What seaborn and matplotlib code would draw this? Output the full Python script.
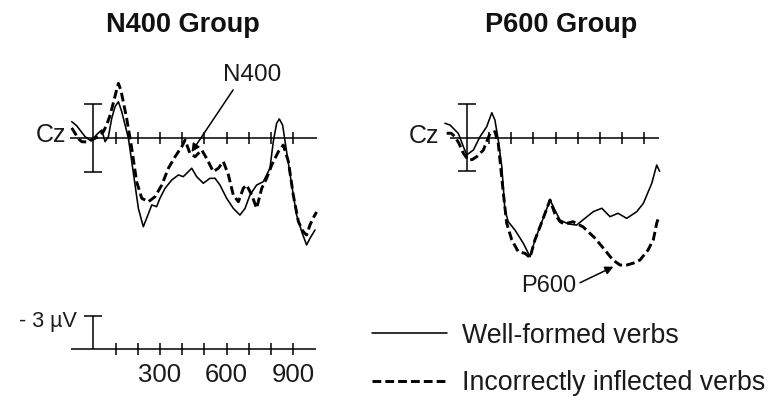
import numpy as np
import pandas as pd
import matplotlib
matplotlib.use("Agg")
import matplotlib.pyplot as plt
from matplotlib.lines import Line2D
import seaborn as sns

# ---------------- data (time in ms, amplitude in µV; negative plotted up) ----------------
n400_well_t = [-97, -75, -60, -37, -15, 0, 20, 38, 53, 68, 83, 98, 113, 128, 143, 158, 173, 188, 203,
               225, 240, 263, 285, 300, 323, 353, 383, 405, 428, 443, 465, 495, 525, 548, 570, 600,
               630, 660, 683, 705, 735, 765, 795, 810, 825, 837, 852, 870, 893, 915, 938, 960, 975, 998]
n400_well_v = [-1.46, -1.1, -0.71, -0.12, 0.2, 0.03, -0.4, -0.71, 0.33, -0.12, -1.76, -2.8, -3.24,
               -2.35, -1.16, 0.03, 2.1, 4.2, 6.3, 7.92, 7.17, 5.98, 6.13, 5.38, 4.49, 3.75, 3.3, 3.45,
               3.0, 2.7, 3.45, 4.04, 3.6, 3.6, 4.2, 5.38, 6.28, 6.88, 6.28, 5.09, 4.2, 3.9, 2.7, 0.33,
               -1.31, -1.7, -1.16, 1.22, 4.2, 6.88, 8.37, 9.55, 8.96, 8.21]

n400_incor_t = [-97, -82, -65, -52, -30, -7, 22, 45, 60, 75, 90, 105, 113, 125, 150, 173, 195, 218,
                248, 278, 308, 338, 368, 398, 413, 435, 458, 488, 510, 540, 563, 585, 608, 630, 653,
                675, 690, 713, 735, 758, 780, 803, 833, 855, 878, 900, 923, 945, 960, 975, 993, 1005]
n400_incor_v = [-0.9, -0.42, 0.1, 0.33, 0.35, 0.18, -0.12, -0.56, -1.16, -2.0, -3.125, -4.3, -4.88,
                -4.2, -1.76, 0.92, 3.9, 5.38, 5.69, 5.24, 4.2, 2.7, 1.67, 0.78, 0.18, 1.37, 1.67, 1.07,
                1.82, 3.0, 2.7, 2.1, 3.3, 5.09, 5.69, 4.49, 4.2, 5.09, 6.28, 4.49, 3.6, 2.41, 1.22,
                0.63, 2.1, 5.09, 7.47, 8.37, 8.66, 7.77, 7.03, 6.6]

p600_well_t = [-98, -75, -38, -15, 0, 30, 60, 90, 113, 127, 142, 158, 172, 187, 217, 255, 285, 307,
               330, 375, 397, 420, 457, 495, 532, 570, 608, 645, 681, 720, 765, 795, 833, 855, 868]
p600_well_v = [-1.29, -1.13, -0.39, 0.8, 1.54, 1.10, -0.09, -0.98, -2.23, -1.58, 0.21, 2.59, 6.46,
               7.5, 8.24, 9.43, 10.63, 9.13, 7.95, 5.56, 6.46, 7.35, 7.7, 7.8, 7.2, 6.6, 6.3, 7.05,
               6.75, 7.2, 6.61, 5.86, 4.07, 2.44, 3.0]

p600_incor_t = [-90, -70, -53, -35, -15, 7, 25, 45, 75, 105, 127, 142, 165, 180, 203, 232, 262, 285,
                307, 330, 375, 397, 420, 440, 478, 523, 577, 622, 658, 690, 720, 750, 780, 816, 840,
                855, 863]
p600_incor_v = [-0.39, -0.4, -0.09, 0.5, 1.39, 1.99, 1.95, 1.70, 1.10, -0.39, -0.54, 0.50, 4.96, 7.64,
                9.13, 10.18, 10.32, 10.7, 9.13, 7.95, 5.56, 6.8, 7.5, 7.7, 7.5, 7.95, 8.96, 10.03,
                10.92, 11.37, 11.37, 11.2, 10.92, 10.03, 9.1, 7.64, 7.17]

panel_titles = ["N400 Group", "P600 Group"]
legend_labels = ["Well-formed verbs", "Incorrectly inflected verbs"]
n400_ticks = [100, 200, 300, 400, 500, 600, 700, 800, 900]
p600_ticks = [100, 200, 300, 400, 500, 600, 700, 800]
scale_ticks = [100, 200, 300, 400, 500, 600, 700, 800, 900]
scale_labels = ["300", "600", "900"]
scale_label_pos = [300, 600, 900]
cal_uv = 3

# ---------------- style ----------------
sns.set_style("white")
plt.rcParams["font.family"] = ["Liberation Sans", "DejaVu Sans"]
TXT = "#1a1a1a"

W, H = 776, 400
PX_MS, PX_UV = 0.2222, 11.2
fig = plt.figure(figsize=(W / 100, H / 100), dpi=100)

def make_axes(left_px, right_px, x0_px, y0_px):
    ax = fig.add_axes([left_px / W, 0, (right_px - left_px) / W, 1])
    return ax, ((left_px - x0_px) / PX_MS, (right_px - x0_px) / PX_MS), (
        (H - y0_px) / PX_UV, (0 - y0_px) / PX_UV)

axL, xlL, ylL = make_axes(0, 388, 93.3, 138.0)
axR, xlR, ylR = make_axes(388, 776, 466.7, 137.7)

SOLID_LW, DASH_LW = 1.15, 2.1
DASHES = (3, 1.4)

def draw_waves(ax, tw, vw, ti, vi):
    dw = pd.DataFrame({"time": tw, "uV": vw})
    di = pd.DataFrame({"time": ti, "uV": vi})
    sns.lineplot(data=dw, x="time", y="uV", ax=ax, color="black", lw=SOLID_LW,
                 estimator=None, sort=False, legend=False)
    sns.lineplot(data=di, x="time", y="uV", ax=ax, color="black", lw=DASH_LW,
                 estimator=None, sort=False, legend=False, dashes=False,
                 linestyle=(0, DASHES))

def draw_axis(ax, t0, t1, ticks, base=0.0, full_bar=True):
    ax.hlines(base, t0, t1, color="black", lw=1.1)
    ax.vlines(ticks, base - 0.55, base + 0.55, color="black", lw=1.1)
    if full_bar:
        ax.vlines(0, base - cal_uv, base + cal_uv, color="black", lw=1.1)
        ax.hlines([base - cal_uv, base + cal_uv], -41, 41, color="black", lw=1.1)
    else:
        ax.vlines(0, base - cal_uv, base, color="black", lw=1.1)
        ax.hlines(base - cal_uv, -40, 40, color="black", lw=1.1)

draw_waves(axL, n400_well_t, n400_well_v, n400_incor_t, n400_incor_v)
draw_waves(axR, p600_well_t, p600_well_v, p600_incor_t, p600_incor_v)

draw_axis(axL, -105, 1007, n400_ticks)
draw_axis(axR, -75, 866, p600_ticks)

# bottom scale (left)
SCALE_BASE = (349.3 - 138.0) / PX_UV
draw_axis(axL, -102, 1002, scale_ticks, base=SCALE_BASE, full_bar=False)
for lab, pos in zip(scale_labels, scale_label_pos):
    axL.text(pos, SCALE_BASE + 2.95, lab, ha="center", va="baseline", fontsize=18.5, color=TXT)
axL.text(-75, SCALE_BASE - 2.02, "- 3 µV", ha="right", va="baseline", fontsize=15.5, color=TXT)

# Cz labels
axL.text(-190, 0.33, "Cz", ha="center", va="baseline", fontsize=18, color=TXT)
axR.text(-192, 0.47, "Cz", ha="center", va="baseline", fontsize=18, color=TXT)

# annotations
axL.text(713, -5.09, "N400", ha="center", va="baseline", fontsize=17.5, color=TXT)
axL.annotate("", xy=(442, 1.25), xytext=(629, -4.29),
             arrowprops=dict(arrowstyle="-|>", lw=1.1, color="black", mutation_scale=12,
                             shrinkA=0, shrinkB=0))
axR.text(371, 13.75, "P600", ha="center", va="baseline", fontsize=17, color=TXT)
axR.annotate("", xy=(660, 11.52), xytext=(510, 12.95),
             arrowprops=dict(arrowstyle="-|>", lw=1.1, color="black", mutation_scale=12,
                             shrinkA=0, shrinkB=0))

for ax, xl, yl in ((axL, xlL, ylL), (axR, xlR, ylR)):
    ax.set_xlim(*xl)
    ax.set_ylim(*yl)
    ax.axis("off")

# titles
fig.text(183 / W, 1 - 32 / H, panel_titles[0], ha="center", va="baseline",
         fontsize=19.5, fontweight="bold", color="#111111")
fig.text(561 / W, 1 - 32 / H, panel_titles[1], ha="center", va="baseline",
         fontsize=19.5, fontweight="bold", color="#111111")

# legend
handles = [Line2D([], [], color="black", lw=SOLID_LW),
           Line2D([], [], color="black", lw=DASH_LW, linestyle=(0, DASHES))]
fs_leg = 19.3
px_per_fs = fs_leg * 100 / 72
leg = fig.legend(handles, legend_labels, loc="center left",
                 bbox_to_anchor=(371.7 / W, 1 - 359.5 / H), frameon=False, fontsize=fs_leg,
                 handlelength=75 / px_per_fs, handletextpad=15 / px_per_fs, labelspacing=0.8,
                 borderpad=0, borderaxespad=0)
for t in leg.get_texts():
    t.set_color(TXT)

fig.savefig("out.png", dpi=100)
